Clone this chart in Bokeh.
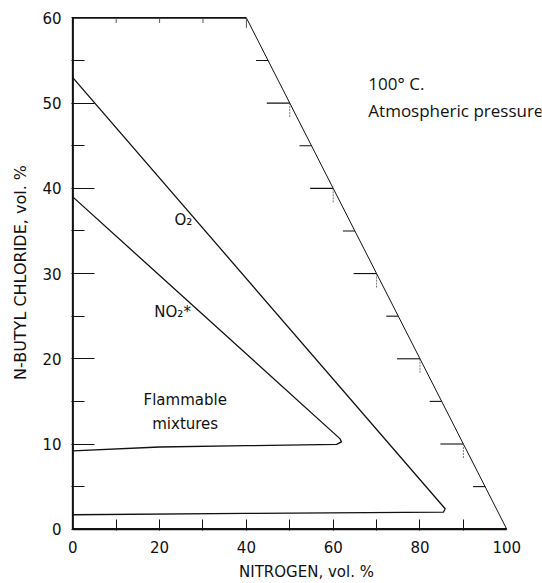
import math
from bokeh.plotting import figure
from bokeh.models import Range1d, FixedTicker
from bokeh.core.properties import value
from bokeh.embed import file_html
from bokeh.resources import INLINE

# ---- data ----
# diagram boundary (N-butyl chloride vs nitrogen)
bnd_x = [0, 0, 40, 100, 0]
bnd_y = [0, 60, 60, 0, 0]

# flammability envelope with O2 as oxidant
o2_x = [0, 85.8, 85.4, 40, 0]
o2_y = [53, 2.4, 2.0, 1.85, 1.7]

# flammability envelope with NO2 as oxidant
no2_x = [0, 61.6, 61.9, 60.8, 40, 20, 0]
no2_y = [39, 10.6, 10.25, 9.95, 9.8, 9.65, 9.2]

y_ticks = [0, 10, 20, 30, 40, 50, 60]
y_minor = [5, 15, 25, 35, 45, 55]
x_ticks = [0, 20, 40, 60, 80, 100]
x_minor = [10, 20, 30, 40, 50, 60, 70, 80, 90]
diag_ticks = [5, 10, 15, 20, 25, 30, 35, 40, 45, 50, 55]
top_ticks = [10, 20, 30, 40]

curve_labels = ["O\u2082", "NO\u2082*"]
curve_lx = [25.5, 23.0]
curve_ly = [36.3, 25.5]

region_labels = ["Flammable", "mixtures"]
region_lx = [25.9, 25.9]
region_ly = [15.2, 12.3]

cond_labels = ["100\u00b0 C.", "Atmospheric pressure"]
cond_lx = [68.1, 68.1]
cond_ly = [52.3, 49.1]

FONT = "DejaVu Sans"
INK = "#111111"

p = figure(width=542, height=583,
           x_range=Range1d(-0.3, 108), y_range=Range1d(-0.15, 60.4),
           output_backend="svg", toolbar_location=None,
           min_border_left=71, min_border_right=1,
           min_border_top=14, min_border_bottom=52)
p.grid.visible = False
p.outline_line_color = None
p.background_fill_color = "white"

# x axis
p.xaxis.ticker = FixedTicker(ticks=x_ticks, minor_ticks=x_minor)
p.xaxis.axis_line_color = None
p.xaxis.major_tick_in = 0
p.xaxis.major_tick_out = 0
p.xaxis.minor_tick_in = 11
p.xaxis.minor_tick_out = 0
p.xaxis.minor_tick_line_color = INK
p.xaxis.major_label_standoff = 10
p.xaxis.axis_label = "NITROGEN, vol. %"
p.xaxis.axis_label_standoff = 7

# y axis
p.yaxis.ticker = FixedTicker(ticks=y_ticks, minor_ticks=y_minor)
p.yaxis.axis_line_color = None
p.yaxis.major_tick_in = 23
p.yaxis.major_tick_out = 0
p.yaxis.major_tick_line_color = INK
p.yaxis.minor_tick_in = 13
p.yaxis.minor_tick_out = 0
p.yaxis.minor_tick_line_color = INK
p.yaxis.major_label_standoff = 10
p.yaxis.axis_label = "N-BUTYL CHLORIDE, vol. %"
p.yaxis.axis_label_standoff = 9

for ax in (p.xaxis, p.yaxis):
    ax.major_label_text_font = FONT
    ax.major_label_text_font_size = "15px"
    ax.major_label_text_color = INK
    ax.axis_label_text_font = FONT
    ax.axis_label_text_font_size = "15px"
    ax.axis_label_text_font_style = "normal"
    ax.axis_label_text_color = INK
p.yaxis.axis_label_text_font_size = "16px"

# boundary: left + bottom heavier, top medium, diagonal thin
p.line(bnd_x[:2], bnd_y[:2], line_color=INK, line_width=2.2)
p.line([bnd_x[0], bnd_x[3]], [bnd_y[0], bnd_y[3]], line_color=INK, line_width=2.4)
p.line(bnd_x[1:3], bnd_y[1:3], line_color=INK, line_width=1.6)
p.line(bnd_x[2:4], bnd_y[2:4], line_color=INK, line_width=1.0)

# ticks along the diagonal (x + y = 100)
dx = [bnd_x[3] - (bnd_x[3] - bnd_x[2]) * (v / bnd_y[2]) for v in diag_ticks]
dlen = [23 if v % 10 == 0 else 12 for v in diag_ticks]
p.ray(x=dx, y=diag_ticks, length=dlen, length_units="screen",
      angle=math.pi, line_color=INK, line_width=1.1)
vx = [x for x, v in zip(dx, diag_ticks) if v % 10 == 0]
vy = [v for v in diag_ticks if v % 10 == 0]
p.ray(x=vx, y=vy, length=14, length_units="screen", angle=-math.pi / 2,
      line_color="#555555", line_width=0.8, line_dash="2 1")

# ticks hanging from the top edge
tlen = [10 if t == bnd_x[2] else 5 for t in top_ticks]
p.ray(x=top_ticks, y=[bnd_y[1]] * len(top_ticks), length=tlen,
      length_units="screen", angle=-math.pi / 2, line_color="#444444",
      line_width=0.9)

# curves
p.line(o2_x, o2_y, line_color=INK, line_width=1.3)
p.line(no2_x, no2_y, line_color=INK, line_width=1.3)

# labels
p.text(x=curve_lx, y=curve_ly, text=curve_labels, text_align="center",
       text_baseline="middle", text_font=value(FONT), text_font_size="15px",
       text_color=INK)
p.text(x=region_lx, y=region_ly, text=region_labels, text_align="center",
       text_baseline="middle", text_font=value(FONT), text_font_size="15px",
       text_color=INK)
p.text(x=cond_lx, y=cond_ly, text=cond_labels, text_align="left",
       text_baseline="middle", text_font=value("Open Sans"),
       text_font_size="17px", text_color=INK)

open("out.html", "w").write(file_html(p, INLINE))
